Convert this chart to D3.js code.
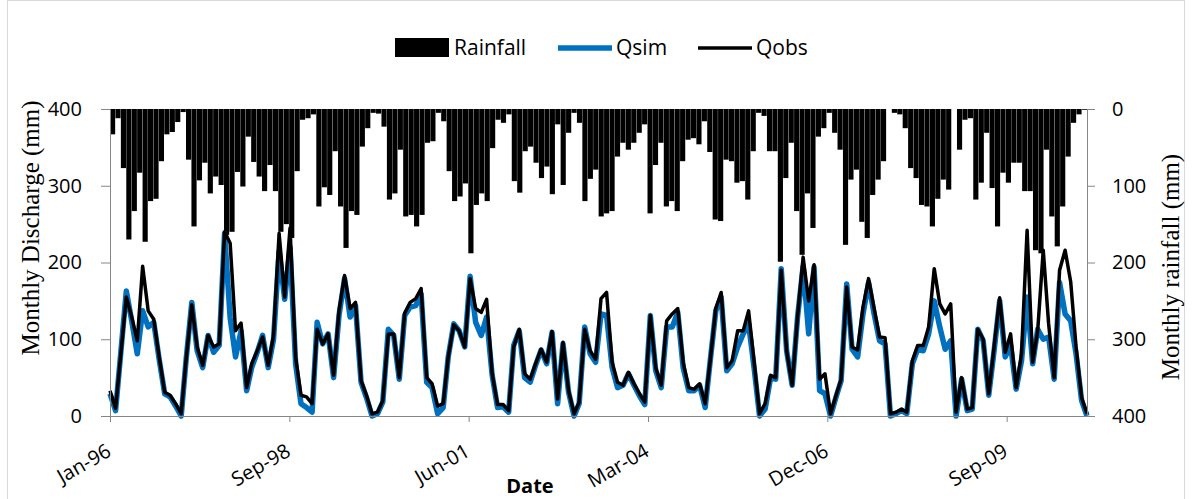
<!DOCTYPE html>
<html>
<head>
<meta charset="utf-8">
<script src="https://cdn.jsdelivr.net/npm/d3@7"></script>
<style>
  body { margin: 0; background: #fff; }
  text { font-family: "Open Sans", sans-serif; }
</style>
</head>
<body>
<script>
// monthly series, Jan-96 .. Dec-10
const startMonth = new Date(1996, 0, 1);

const rainfall = [
  33, 12, 77, 170, 133, 83, 173, 120, 117, 68, 33, 30, 17, 4, 66, 153, 93, 70, 110, 88,
  99, 164, 160, 82, 101, 36, 69, 88, 107, 73, 107, 160, 150, 168, 81, 14, 12, 7, 127, 102,
  112, 55, 127, 181, 133, 138, 49, 25, 5, 6, 23, 118, 110, 53, 140, 138, 153, 138, 44, 42,
  5, 16, 81, 120, 114, 97, 188, 125, 110, 120, 51, 14, 18, 7, 94, 109, 55, 49, 70, 90,
  75, 111, 20, 99, 31, 5, 18, 120, 91, 79, 140, 136, 133, 62, 44, 53, 44, 31, 20, 136,
  73, 44, 127, 120, 133, 68, 40, 38, 46, 16, 56, 144, 146, 66, 68, 96, 94, 118, 55, 5,
  9, 55, 55, 199, 90, 44, 133, 190, 110, 155, 36, 25, 5, 31, 53, 177, 92, 79, 147, 168,
  112, 92, 68, 0, 5, 7, 25, 77, 90, 125, 127, 153, 117, 92, 105, 0, 53, 14, 12, 118,
  96, 31, 103, 153, 83, 96, 70, 70, 107, 107, 184, 188, 53, 140, 179, 127, 62, 18, 7, 1
];

const qsim = [
  29, 7, 82, 163, 124, 81, 137, 116, 122, 74, 29, 25, 13, 0, 75, 148, 85, 63, 105, 83,
  92, 238, 128, 77, 111, 33, 63, 83, 105, 63, 100, 215, 152, 220, 68, 16, 11, 5, 122, 94,
  107, 50, 131, 179, 129, 144, 44, 24, 0, 3, 18, 113, 105, 48, 131, 142, 144, 159, 44, 37,
  3, 11, 77, 120, 111, 90, 182, 122, 105, 129, 53, 11, 12, 5, 92, 111, 50, 44, 66, 86,
  68, 109, 16, 94, 31, 0, 16, 116, 81, 70, 133, 131, 63, 37, 40, 55, 40, 26, 15, 131,
  59, 37, 116, 116, 135, 63, 33, 33, 40, 11, 72, 137, 155, 59, 68, 90, 107, 120, 62, 0,
  9, 50, 48, 192, 85, 40, 129, 195, 107, 194, 33, 29, 0, 25, 46, 172, 87, 77, 133, 174,
  133, 98, 94, 0, 3, 7, 3, 68, 87, 85, 107, 150, 116, 87, 98, 0, 48, 7, 9, 113,
  98, 27, 85, 150, 77, 92, 35, 72, 155, 68, 113, 100, 103, 48, 174, 133, 124, 81, 20, 0
];

const qobs = [
  33, 10, 80, 155, 129, 98, 195, 137, 126, 77, 31, 27, 16, 3, 75, 145, 90, 66, 105, 90,
  94, 240, 225, 111, 121, 37, 68, 85, 103, 66, 105, 238, 155, 245, 77, 27, 25, 16, 113, 94,
  107, 53, 137, 183, 140, 148, 46, 27, 3, 5, 20, 107, 107, 50, 134, 148, 153, 166, 50, 42,
  13, 16, 77, 119, 111, 90, 179, 140, 135, 152, 55, 15, 15, 7, 90, 113, 55, 48, 68, 87,
  70, 110, 22, 96, 33, 3, 18, 113, 85, 74, 153, 161, 70, 44, 40, 57, 42, 29, 18, 131,
  63, 40, 124, 133, 140, 70, 37, 35, 42, 16, 72, 140, 161, 63, 72, 111, 111, 137, 70, 3,
  16, 53, 50, 190, 85, 40, 129, 207, 150, 197, 48, 55, 3, 27, 48, 168, 90, 86, 142, 179,
  140, 103, 102, 3, 5, 9, 5, 72, 92, 92, 116, 192, 146, 133, 146, 5, 50, 9, 11, 113,
  100, 29, 90, 154, 83, 107, 37, 81, 242, 70, 111, 216, 120, 50, 190, 216, 175, 90, 24, 3
];

const xTickLabels = ["Jan-96", "Sep-98", "Jun-01", "Mar-04", "Dec-06", "Sep-09"];
const yTicks = [0, 100, 200, 300, 400];

const width = 1192, height = 499;
const plot = { left: 110, right: 1087, top: 109, bottom: 416 };

const months = rainfall.map((d, i) => d3.timeMonth.offset(startMonth, i));

const svg = d3.select("body").append("svg")
    .attr("width", width)
    .attr("height", height);

// chart border (bottom edge sits outside the picture)
svg.append("rect")
    .attr("x", 7.5).attr("y", 0.5)
    .attr("width", 1177).attr("height", 520)
    .attr("fill", "none")
    .attr("stroke", "#d9d9d9");

const x = d3.scaleTime()
    .domain([months[0], months[months.length - 1]])
    .range([plot.left, plot.right]);

const xBand = d3.scaleBand()
    .domain(d3.range(rainfall.length))
    .range([plot.left, plot.right])
    .paddingInner(0.05);

const y = d3.scaleLinear().domain([0, 400]).range([plot.bottom, plot.top]);
const yRain = d3.scaleLinear().domain([0, 400]).range([plot.top, plot.bottom]);

// rainfall bars hanging from the top
svg.append("g")
    .selectAll("rect")
    .data(rainfall)
    .join("rect")
    .attr("x", (d, i) => xBand(i))
    .attr("y", plot.top)
    .attr("width", xBand.bandwidth())
    .attr("height", d => yRain(d) - plot.top)
    .attr("fill", "#000");

const line = d3.line()
    .x((d, i) => x(months[i]))
    .y(d => y(d));

svg.append("path")
    .datum(qsim)
    .attr("d", line)
    .attr("fill", "none")
    .attr("stroke", "#0070c0")
    .attr("stroke-width", 5.5)
    .attr("stroke-linejoin", "round");

svg.append("path")
    .datum(qobs)
    .attr("d", line)
    .attr("fill", "none")
    .attr("stroke", "#000")
    .attr("stroke-width", 3.5)
    .attr("stroke-linejoin", "round");

// axes
const tickDates = xTickLabels.map((d, k) => d3.timeDay.offset(startMonth, 1000 * k));

const gx = svg.append("g")
    .attr("transform", "translate(0," + plot.bottom + ")")
    .call(d3.axisBottom(x).tickValues(tickDates).tickFormat((d, k) => xTickLabels[k]).tickSize(6).tickSizeOuter(0));
gx.select(".domain").attr("d", "M" + plot.left + ",0.5H" + (plot.right + 6));
gx.selectAll("text")
    .attr("x", 0).attr("y", 0).attr("dy", 0)
    .attr("transform", "translate(2,39) rotate(-30)")
    .style("text-anchor", "end");

const gy = svg.append("g")
    .attr("transform", "translate(" + plot.left + ",0)")
    .call(d3.axisLeft(y).tickValues(yTicks).tickSize(9).tickPadding(19));

const gy2 = svg.append("g")
    .attr("transform", "translate(" + plot.right + ",0)")
    .call(d3.axisRight(yRain).tickValues(yTicks).tickSize(8).tickPadding(17));

[gx, gy, gy2].forEach(g => {
    g.selectAll(".domain, line").attr("stroke", "#868686");
    g.selectAll("text").attr("fill", "#000").style("font-size", "20px").style("font-family", "'Open Sans', sans-serif");
});

// axis titles
svg.append("text")
    .attr("transform", "translate(39,228) rotate(-90)")
    .attr("text-anchor", "middle")
    .style("font-family", "'Liberation Serif', serif")
    .style("font-size", "25px")
    .text("Monthly Discharge (mm)");

svg.append("text")
    .attr("transform", "translate(1179,267) rotate(-90)")
    .attr("text-anchor", "middle")
    .style("font-family", "'Liberation Serif', serif")
    .style("font-size", "25px")
    .text("Monthly rainfall (mm)");

svg.append("text")
    .attr("x", 530).attr("y", 493)
    .attr("text-anchor", "middle")
    .style("font-size", "20px")
    .style("font-weight", "bold")
    .text("Date");

// legend
const legend = svg.append("g");
legend.append("rect")
    .attr("x", 395).attr("y", 38).attr("width", 54).attr("height", 19)
    .attr("fill", "#000");
legend.append("text").attr("x", 454).attr("y", 55).style("font-size", "21px").text("Rainfall");
legend.append("line")
    .attr("x1", 558).attr("x2", 612).attr("y1", 48).attr("y2", 48)
    .attr("stroke", "#0070c0").attr("stroke-width", 5.5);
legend.append("text").attr("x", 616).attr("y", 55).style("font-size", "21px").text("Qsim");
legend.append("line")
    .attr("x1", 698).attr("x2", 752).attr("y1", 48).attr("y2", 48)
    .attr("stroke", "#000").attr("stroke-width", 3.5);
legend.append("text").attr("x", 756).attr("y", 55).style("font-size", "21px").text("Qobs");
</script>
</body>
</html>
